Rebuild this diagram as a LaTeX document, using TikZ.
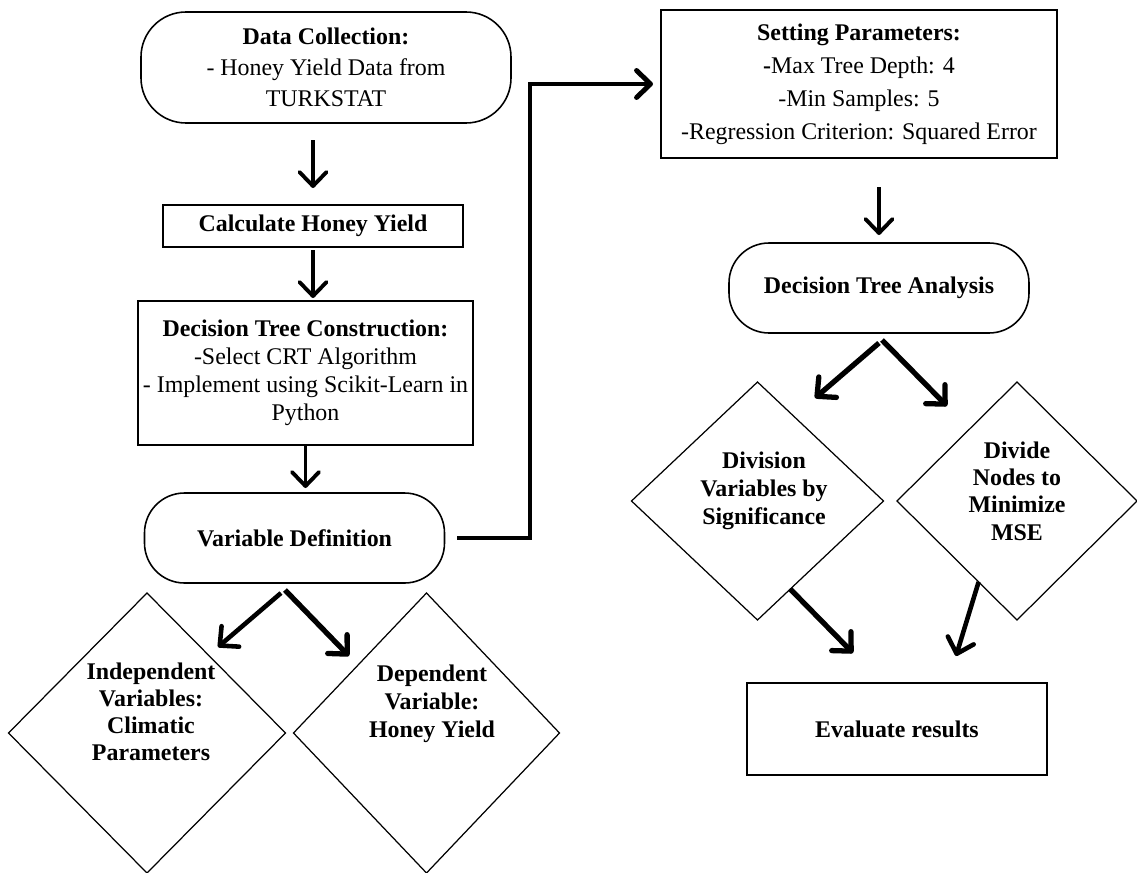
\documentclass[tikz,border=0pt]{standalone}
\usepackage{fontspec}
\setmainfont{Liberation Serif}
\usetikzlibrary{arrows.meta, positioning, calc, shapes.geometric}
\tikzset{
    base/.style={draw=black, align=center, outer sep=0pt, inner sep=2pt, font=\fontsize{13.6}{17.6}\selectfont},
    termbox/.style={base, rectangle, rounded corners=0.8cm, line width=0.9pt},
    procbox/.style={base, rectangle, line width=1pt},
    choice/.style={base, diamond, line width=0.7pt, inner sep=0pt},
    choicetext/.style={align=center, font=\fontsize{13.6}{15.8}\selectfont\bfseries},
    arrow/.style={-{Straight Barb[length=2.8mm, width=5.4mm, round]}, line width=2.2pt, draw=black},
    slantarrow/.style={arrow, line width=3pt},
    elbowarrow/.style={arrow, line width=2.8pt, line join=miter}
}
\begin{document}
\begin{tikzpicture}[node distance=1cm]
    \useasboundingbox (0,0) rectangle (22.74,-17.46);
    \node[termbox, rounded corners=0.9cm, minimum width=7.4cm, minimum height=2.22cm] (collect) at (6.52,-1.35) {\textbf{Data Collection:}\\- Honey Yield Data from\\TURKSTAT};
    \node[procbox, line width=1.4pt, minimum width=6cm, minimum height=0.84cm, below=1.64cm of collect, xshift=-0.26cm] (yieldcalc) {\textbf{Calculate Honey Yield}};
    \node[procbox, minimum width=6.7cm, minimum height=2.88cm, below=1.08cm of yieldcalc, xshift=-0.15cm, font=\fontsize{13.6}{15.9}\selectfont] (build) {\textbf{Decision Tree Construction:}\\-Select CRT Algorithm\\- Implement using Scikit-Learn in\\Python};
    \node[termbox, minimum width=6cm, minimum height=1.8cm, below=0.96cm of build, xshift=-0.22cm] (vardef) {\textbf{Variable Definition}};
    \node[choice, minimum width=5.54cm, minimum height=5.6cm] (indep) at (2.94,-14.66) {};
    \node[choicetext, font=\fontsize{13.6}{15.3}\selectfont\bfseries] (indeptext) at ([xshift=0.08cm, yshift=0.42cm]indep.center) {Independent\\Variables:\\Climatic\\Parameters};
    \node[choice, minimum width=5.32cm, minimum height=5.6cm] (dep) at (8.53,-14.66) {};
    \node[choicetext] (deptext) at ([xshift=0.11cm, yshift=0.58cm]dep.center) {Dependent\\Variable:\\Honey Yield};

    \node[procbox, minimum width=7.92cm, minimum height=2.96cm, font=\fontsize{13.6}{18.8}\selectfont] (params) at (17.18,-1.68) {\textbf{Setting Parameters:}\\\textbf{-}Max Tree Depth: 4\\-Min Samples: 5\\-Regression Criterion: Squared Error};
    \node[termbox, minimum width=6cm, minimum height=1.8cm, below=1.7cm of params, xshift=0.4cm] (analysis) {\textbf{Decision Tree Analysis}};
    \node[choice, minimum width=5.04cm, minimum height=4.76cm] (split) at (15.15,-10.02) {};
    \node[choicetext] (splittext) at ([xshift=0.13cm, yshift=0.2cm]split.center) {Division\\Variables by\\Significance};
    \node[choice, minimum width=4.8cm, minimum height=4.76cm] (mse) at (20.34,-10.02) {};
    \node[choicetext, font=\fontsize{13.6}{15.6}\selectfont\bfseries] (msetext) at ([yshift=0.2cm]mse.center) {Divide\\Nodes to\\Minimize\\MSE};
    \node[procbox, line width=1.2pt, minimum width=6cm, minimum height=1.84cm] (evaluate) at (17.94,-14.58) {\textbf{Evaluate results}};

    \draw[arrow, shorten <=0.34cm, shorten >=0.34cm] (yieldcalc.north |- collect.south) -- (yieldcalc.north);
    \draw[arrow, shorten <=0.06cm, shorten >=0.06cm] (yieldcalc.south) -- (yieldcalc.south |- build.north);
    \draw[arrow, shorten >=0.1cm] (build.south) -- (build.south |- vardef.north);
    \draw[slantarrow, line width=2.6pt] ([xshift=-0.27cm, yshift=-0.2cm]vardef.south) -- ([xshift=1.42cm, yshift=-1.08cm]indep.north);
    \draw[slantarrow] ([xshift=-0.19cm, yshift=-0.14cm]vardef.south) -- ([xshift=-1.55cm, yshift=-1.26cm]dep.north);
    \coordinate (turn) at (10.6,-1.68);
    \draw[elbowarrow, shorten >=0.16cm] ([xshift=0.25cm]vardef.east) -| (turn) -- (params.west);
    \draw[arrow, shorten <=0.58cm, shorten >=0.16cm] (analysis.north |- params.south) -- (analysis.north);
    \draw[slantarrow] ([yshift=-0.2cm]analysis.south) -- ([xshift=1.15cm, yshift=-0.32cm]split.north);
    \draw[slantarrow] ([xshift=0.06cm, yshift=-0.14cm]analysis.south) -- ([xshift=-1.4cm, yshift=-0.48cm]mse.north);
    \draw[slantarrow] ($(split.south)!0.26!(split.east)$) -- ([xshift=-0.88cm, yshift=0.6cm]evaluate.north);
    \draw[arrow, line width=2.6pt] ($(mse.south)!0.32!(mse.west)$) -- ([xshift=1.18cm, yshift=0.54cm]evaluate.north);
\end{tikzpicture}
\end{document}
